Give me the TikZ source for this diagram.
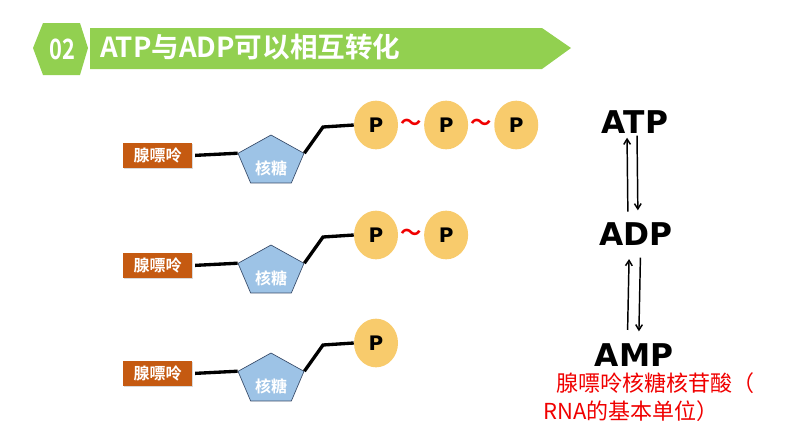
\documentclass[tikz,border=0pt]{standalone}
\usepackage{fontspec}
\usepackage{xcolor}
\usetikzlibrary{positioning,arrows.meta,shapes.geometric,shadows}

\newfontfamily\cjk{Noto Sans CJK SC}[BoldFont={Noto Sans CJK SC Bold}]
\newfontfamily\numfont{Noto Sans CJK SC Bold}[FakeStretch=0.78]
\newfontfamily\vfont{DejaVu Sans}[BoldFont={DejaVu Sans Bold}]

\definecolor{hdgreen}{RGB}{146,208,80}
\definecolor{baseorange}{RGB}{197,90,17}
\definecolor{sugarblue}{RGB}{157,195,230}
\definecolor{sugaredge}{RGB}{55,75,105}
\definecolor{phosyellow}{RGB}{248,203,108}
\definecolor{notered}{RGB}{240,0,0}

\begin{document}
\begin{tikzpicture}[x=0.75pt, y=-0.75pt,
  hdtext/.style={text=white, inner sep=0pt, font=\cjk\bfseries\fontsize{20.7pt}{22pt}\selectfont},
  base/.style={fill=baseorange, text=white, minimum width=52pt, minimum height=19pt, inner sep=0pt,
               font=\cjk\bfseries\fontsize{12pt}{14pt}\selectfont,
               drop shadow={shadow xshift=0.8pt, shadow yshift=-0.8pt, opacity=.3}},
  sugar/.style={regular polygon, regular polygon sides=5, minimum size=52pt, inner sep=0pt,
                fill=sugarblue, draw=sugaredge, line width=0.5pt, yscale=0.764, transform shape},
  sugartxt/.style={text=white, inner sep=0pt, font=\cjk\bfseries\fontsize{12pt}{14pt}\selectfont},
  phos/.style={ellipse, fill=phosyellow, minimum width=33pt, minimum height=36.5pt, inner sep=0pt,
               font=\vfont\bfseries\fontsize{15pt}{17pt}\selectfont},
  tilde/.style={text=notered, inner sep=0pt, font=\cjk\bfseries\fontsize{16pt}{18pt}\selectfont},
  bond/.style={line width=2.5pt},
  nuc/.style={inner sep=0pt, font=\vfont\bfseries\fontsize{23.5pt}{25pt}\selectfont},
  conv/.style={line width=1.1pt, -{Straight Barb[length=4pt,width=5pt]}},
  note/.style={text=notered, inner sep=0pt, align=left,
               font=\cjk\fontsize{16.5pt}{21pt}\selectfont}]
\useasboundingbox (0,0) rectangle (794,447);
% header band
\fill[hdgreen] (33,48) -- (43,23) -- (80,23) -- (88,48) -- (80,75) -- (43,75) -- cycle;
\fill[hdgreen] (90,28) -- (542,28) -- (571,48) -- (542,69) -- (90,69) -- cycle;
\node[hdtext, font=\numfont\fontsize{21pt}{22pt}\selectfont] (num) at (62.5,49) {02};
\node[hdtext, anchor=west] (title) at (100,47) {ATP与ADP可以相互转化};

% base - sugar - first phosphate, one row each
\foreach \r/\y in {1/0, 2/110, 3/218} {
  \node[base] (b\r) at (157.5,155.5+\y) {腺嘌呤};
  \coordinate (c\r) at (271,161.5+\y);
  \node[sugar] (s\r) at (c\r) {};
  \node[sugartxt] at ([yshift=-5pt]s\r.center) {核糖};
  \coordinate (k\r) at (323,127+\y);
  \node[phos] (p\r1) at (376,125+\y) {P};
  \draw[bond, shorten <=2pt] (b\r.east) -- (s\r.corner 2);
  \draw[bond] (s\r.corner 5) -- (k\r) -- (p\r1.west);
}
\node[tilde, right=1.4pt of p11] (t11) {～};
\node[phos, right=1.4pt of t11] (p12) {P};
\node[tilde, right=1.4pt of p12] (t12) {～};
\node[phos, right=1.4pt of t12] (p13) {P};
\node[tilde, right=1.4pt of p21] (t21) {～};
\node[phos, right=1.4pt of t21] (p22) {P};

% ATP <-> ADP <-> AMP
\node[nuc] (atp) at (635,122) {ATP};
\node[nuc] (adp) at (636,234) {ADP};
\node[nuc] (amp) at (634,355) {AMP};
\draw[conv, shorten <=8pt, shorten >=3pt] ([xshift=-6pt]adp.north) -- ([xshift=-6pt]atp.south);
\draw[conv, shorten <=1.5pt, shorten >=9pt] ([xshift=1.5pt]atp.south) -- ([xshift=1.5pt]adp.north);
\draw[conv, shorten <=10pt, shorten >=10pt] ([xshift=-5pt]amp.north) -- ([xshift=-5pt]adp.south);
\draw[conv, shorten <=9pt, shorten >=9pt] ([xshift=3.5pt]adp.south) -- ([xshift=3.5pt]amp.north);
\node[note, anchor=north west] (rna) at (543,372) {\hspace*{10pt}腺嘌呤核糖核苷酸（\\RNA的基本单位）};
\end{tikzpicture}
\end{document}
